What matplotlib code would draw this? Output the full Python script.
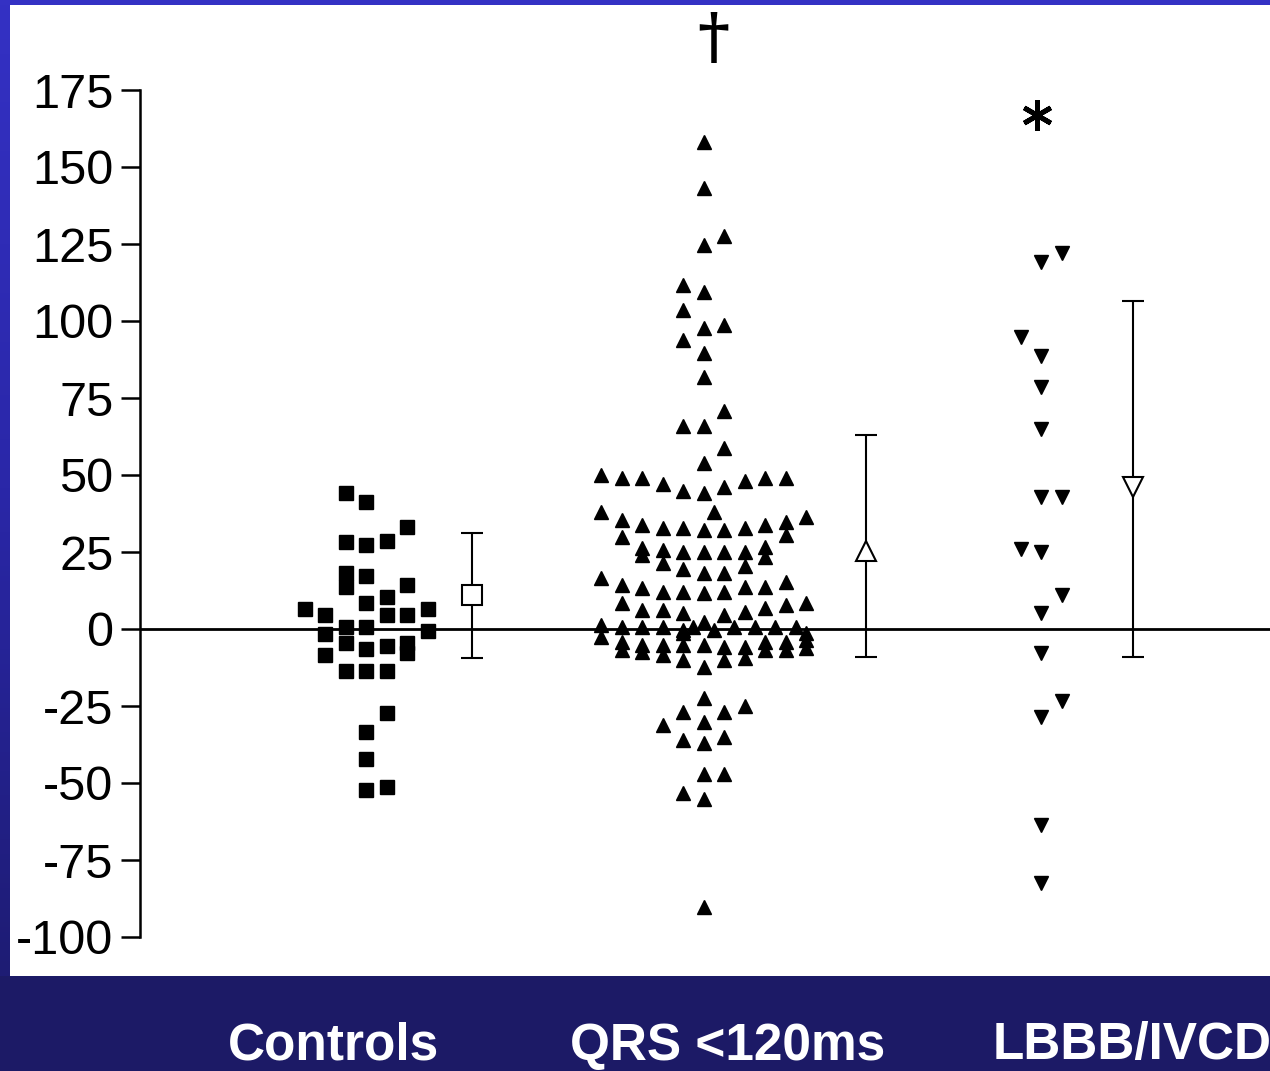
import numpy as np
import matplotlib.pyplot as plt
from matplotlib.patches import Rectangle
from matplotlib.colors import LinearSegmentedColormap

# values (y units), with beeswarm column slot per point
controls_vals = [44.2, 41.2, 33.1, 28.2, 27.3, 28.6, 18.2, 13.6, 17.2, 14.3,
                 10.4, 8.4, 6.5, 4.5, 4.5, 4.5, 6.5, 0.6, 0.6, -0.6,
                 -1.6, -4.5, -6.5, -5.5, -4.5, -7.8, -8.4, -13.6, -13.6, -13.6,
                 -27.3, -33.4, -42.2, -52.3, -51.3]
controls_slot = [-1, 0, 2, -1, 0, 1, -1, -1, 0, 2,
                 1, 0, -3, -2, 1, 2, 3, -1, 0, 3,
                 -2, -1, 0, 1, 2, 2, -2, -1, 0, 1,
                 1, 0, 0, 0, 1]

qrs_vals = [158.1, 143.2, 127.6, 124.7, 111.7, 109.4, 103.6, 97.7, 98.7, 93.8,
            89.6, 81.8, 70.8, 65.9, 65.9, 58.8, 53.9,
            50.0, 49.0, 49.0, 47.1, 44.8, 44.2, 46.1, 48.1, 49.0, 49.0,
            38.0, 38.0, 35.4, 33.8, 32.8, 32.8, 32.1, 32.1, 32.8, 33.8, 34.7, 36.4, 29.9, 30.5,
            26.3, 24.0, 25.6, 21.4, 25.0, 25.0, 25.0, 25.0, 26.6, 23.4, 19.5, 18.2, 18.2, 20.5,
            16.6, 14.3, 13.3, 12.0, 12.0, 11.7, 12.0, 13.6, 13.6, 15.3,
            8.4, 6.2, 6.2, 5.2, 4.5, 5.5, 6.8, 7.8, 8.4,
            1.3, -2.6, 0.6, 0.6, 0.6, -0.3, 0.6, 2.3, -0.3, 0.6, 0.6, 0.6, 0.6, -1.3, -1.3,
            -4.2, -6.8, -5.2, -7.5, -5.2, -8.4, -5.2, -10.1, -5.2, -12.3, -5.8, -10.1,
            -5.8, -9.4, -4.2, -6.8, -4.2, -6.8, -3.6, -6.2,
            -22.4, -26.9, -26.9, -25.0, -31.2, -30.2, -36.0, -37.0, -35.1,
            -47.1, -47.1, -53.2, -55.2, -90.3]
qrs_slot = [0, 0, 1, 0, -1, 0, -1, 0, 1, -1,
            0, 0, 1, -1, 0, 1, 0,
            -5, -4, -3, -2, -1, 0, 1, 2, 3, 4,
            -5, 0.5, -4, -3, -2, -1, 0, 1, 2, 3, 4, 5, -4, 4,
            -3, -3, -2, -2, -1, 0, 1, 2, 3, 3, -1, 0, 1, 2,
            -5, -4, -3, -2, -1, 0, 1, 2, 3, 4,
            -4, -3, -2, -1, 1, 2, 3, 4, 5,
            -5, -5, -4, -3, -2, -1, -0.5, 0, 0.5, 1.5, 2.5, 3.5, 4.5, 5, -1,
            -4, -4, -3, -3, -2, -2, -1, -1, 0, 0, 1, 1,
            2, 2, 3, 3, 4, 4, 5, 5,
            0, -1, 1, 2, -2, 0, -1, 0, 1,
            0, 1, -1, 0, 0]

lbbb_vals = [119.2, 122.1, 94.8, 88.6, 78.6, 64.9, 42.9, 42.9, 26.0, 25.0,
             11.0, 5.2, -7.8, -23.4, -28.6, -63.6, -82.5]
lbbb_slot = [0, 1, -1, 0, 0, 0, 0, 1, -1, 0,
             1, 0, 0, 1, 0, 0, 0]

# group mean and error bar (low, high)
means = [11.0, 25.3, 46.1]
err_low = [-9.4, -9.1, -9.1]
err_high = [31.2, 63.0, 106.5]

group_labels = ['Controls', 'QRS <120ms', 'LBBB/IVCD']
yticks = [-100, -75, -50, -25, 0, 25, 50, 75, 100, 125, 150, 175]

# layout (pixel-like x units)
W, H = 1270, 1071
centers = [366, 703.5, 1041]
mean_x = [472, 866, 1133]
step = 20.5
navy = '#1c1a66'

fig = plt.figure(figsize=(W / 100, H / 100), dpi=100, facecolor=navy)

# blue strips: top bar and left gradient
bg = fig.add_axes([0, 0, 1, 1])
bg.set_xlim(0, W)
bg.set_ylim(H, 0)
bg.axis('off')
grad = np.linspace(0, 1, 200).reshape(-1, 1)
cm = LinearSegmentedColormap.from_list('s', ['#3431c4', '#2a27a8', '#1e1c74'])
bg.imshow(grad, cmap=cm, extent=(0, 10, 976, 0), aspect='auto')
bg.add_patch(Rectangle((0, 0), W, 5, color='#3431c4', lw=0))
bg.add_patch(Rectangle((10, 5), W - 10, 971, color='white', lw=0))

# main axes: pixel 5..975 vertically, 140..1270 horizontally
ppu = 3.08
y0 = 629
ax = fig.add_axes([140 / W, (H - 975) / H, 1 - 140 / W, 970 / H])
ax.set_facecolor('none')
ax.set_xlim(140, W)
ax.set_ylim((y0 - 975) / ppu, (y0 - 5) / ppu)

for s in ['top', 'right', 'bottom']:
    ax.spines[s].set_visible(False)
ax.spines['left'].set_bounds(-100, 175)
ax.spines['left'].set_linewidth(1.8)
ax.set_xticks([])
ax.set_yticks(yticks)
ax.set_yticklabels([str(t) for t in yticks], fontsize=35, family='Liberation Sans')
ax.tick_params(axis='y', direction='out', length=14, width=1.8, pad=5)

ax.axhline(0, color='black', lw=2, zorder=1)

ax.plot(centers[0] + np.array(controls_slot) * step, controls_vals, 's',
        color='black', ms=10.5, zorder=3)
ax.plot(centers[1] + np.array(qrs_slot) * step, qrs_vals, '^',
        color='black', ms=10, zorder=3)
ax.plot(centers[2] + np.array(lbbb_slot) * step, lbbb_vals, 'v',
        color='black', ms=9.5, zorder=3)

for i, m in enumerate(['s', '^', 'v']):
    ax.errorbar([mean_x[i]], [means[i]],
                yerr=[[means[i] - err_low[i]], [err_high[i] - means[i]]],
                fmt='none', ecolor='black', elinewidth=1.5, capsize=8,
                capthick=1.5, zorder=2)
    ax.plot([mean_x[i]], [means[i]], m, mfc='white', mec='black',
            mew=1.5, ms=14 if m == 's' else 15, zorder=4)

# significance marks
ax.text(713, (y0 - 40) / ppu, '\u2020', fontsize=44, family='DejaVu Serif',
        fontweight='bold', ha='center', va='center', color='black')
ax.plot([1037], [(y0 - 115) / ppu], marker=(6, 2, 0), color='black',
        ms=22, mew=3.5)

for cx, lab in zip([334, 728, 1132], group_labels):
    fig.text(cx / W, 1 - 1046 / H, lab, color='white', fontsize=37,
             fontweight='bold', family='Liberation Sans', ha='center', va='center')

fig.savefig('out.png', dpi=100, facecolor=navy)
